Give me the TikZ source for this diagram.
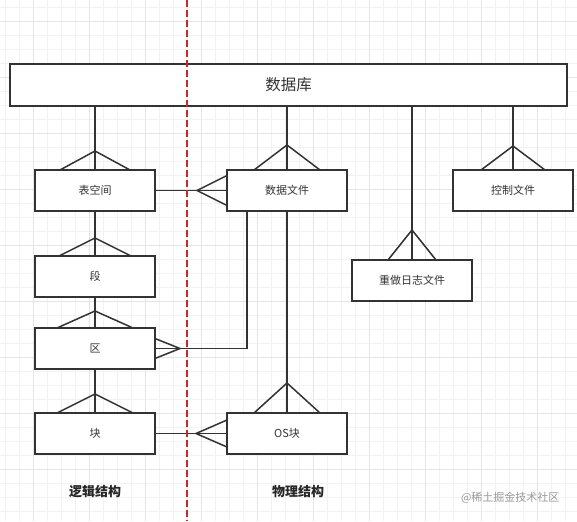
\documentclass[tikz,border=0pt]{standalone}
\usepackage{fontspec}
\setmainfont{Noto Sans CJK SC}
\usetikzlibrary{calc}
\definecolor{linec}{HTML}{333333}
\definecolor{redc}{HTML}{C82828}
\definecolor{gridminor}{HTML}{F2F2F2}
\definecolor{gridmajor}{HTML}{E4E4E4}
\newcommand\crowN[3]{\draw[conn] ($(#1.north)+(-#2,0)$) -- ($(#1.north)+(0,-#3)$) -- ($(#1.north)+(#2,0)$);}
\newcommand\crowE[3]{\draw[conn] ($(#1.east)+(0,-#2)$) -- ($(#1.east)+(#3,0)$) -- ($(#1.east)+(0,#2)$);}
\newcommand\crowW[3]{\draw[conn] ($(#1.west)+(0,-#2)$) -- ($(#1.west)+(-#3,0)$) -- ($(#1.west)+(0,#2)$);}
\begin{document}
\begin{tikzpicture}[x=1pt,y=-1pt,
  box/.style={draw=linec, line width=1.5pt, fill=white, minimum width=120pt, minimum height=41pt, inner sep=0pt, outer sep=0pt, font=\fontsize{11}{13}\selectfont, text=black!80},
  conn/.style={draw=linec, line width=1.5pt},
  lbl/.style={font=\fontsize{13}{15}\selectfont\bfseries, text=black!85}]
\useasboundingbox (0,0) rectangle (577,521);
\fill[white] (0,0) rectangle (577,521);
% grid
\foreach \x in {5,19,...,577} \draw[gridminor, line width=0.8pt] (\x,0) -- (\x,521);
\foreach \y in {7,21,...,521} \draw[gridminor, line width=0.8pt] (0,\y) -- (577,\y);
\foreach \x in {33,89,...,577} \draw[gridmajor, line width=0.8pt] (\x,0) -- (\x,521);
\foreach \y in {21,77,...,521} \draw[gridmajor, line width=0.8pt] (0,\y) -- (577,\y);

% nodes
\node[box, minimum width=557pt, minimum height=42pt, font=\fontsize{15.5}{18}\selectfont] (db) at (288.5,85) {数据库};
\node[box] (ts) at (95,190.5) {表空间};
\node[box] (df) at (287,190.5) {数据文件};
\node[box] (cf) at (513,190.5) {控制文件};
\node[box] (rl) at (412,280.5) {重做日志文件};
\node[box] (seg) at (95,276.5) {段};
\node[box] (ext) at (95,348.5) {区};
\node[box] (blk) at (95,433.5) {块};
\node[box] (os) at (287,433.5) {OS块};

% connectors from database
\draw[conn] (db.south -| ts.north) -- (ts.north);
\crowN{ts}{35}{19}
\draw[conn] (db.south -| df.north) -- (df.north);
\crowN{df}{33}{25}
\draw[conn] (db.south -| rl.north) -- (rl.north);
\crowN{rl}{24}{30}
\draw[conn] (db.south -| cf.north) -- (cf.north);
\crowN{cf}{32}{24}

% logical chain
\draw[conn] (ts.south) -- (seg.north);
\crowN{seg}{36}{18}
\draw[conn] (seg.south) -- (ext.north);
\crowN{ext}{38}{17}
\draw[conn] (ext.south) -- (blk.north);
\crowN{blk}{38}{19}

% cross links
\draw[conn] (ts.east) -- (df.west);
\crowW{df}{15}{30}
\coordinate (dfo) at ($(df.south west)+(20,0)$);
\draw[conn] (dfo) |- (ext.east);
\crowE{ext}{10}{25}
\draw[conn] (df.south) -- (os.north);
\crowN{os}{33}{30}
\draw[conn] (blk.east) -- (os.west);
\crowW{os}{13.5}{31}

% divider
\draw[redc, line width=1.5pt, dash pattern=on 7pt off 3pt] (187,0) -- (187,521);

% labels
\node[lbl] (logic) at (95,492) {逻辑结构};
\node[lbl] (phys) at (298,492) {物理结构};
\node[font=\fontsize{11}{13}\selectfont, text=black!40, anchor=east] (wm) at (563,498) {@稀土掘金技术社区};
\end{tikzpicture}
\end{document}
